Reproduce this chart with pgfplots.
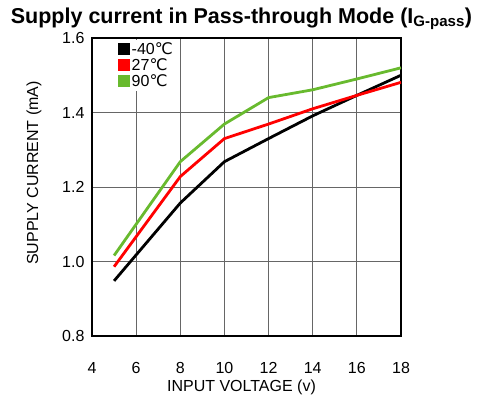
\documentclass[border=0pt]{standalone}
\usepackage{pgfplots}
\pgfplotsset{compat=1.18}
\usepackage{fontspec}
\setmainfont{Liberation Sans}
\newfontfamily\dejavu{DejaVu Sans}
\definecolor{cgreen}{RGB}{104,186,46}
\newcommand{\degC}{{\dejavu ℃}}

\begin{document}
\begin{tikzpicture}
\begin{axis}[
    scale only axis,
    width=309pt, height=298pt,
    xmin=4, xmax=18, ymin=0.8, ymax=1.6,
    xtick={4,6,...,18},
    ytick={0.8,1.0,...,1.6},
    y tick label style={/pgf/number format/fixed,/pgf/number format/fixed zerofill,/pgf/number format/precision=1},
    /pgf/number format/assume math mode=true,
    tick label style={font=\fontsize{16}{18}\selectfont},
    xticklabel style={yshift=-23pt},
    yticklabel style={xshift=-4pt},
    major tick length=0pt,
    grid=major,
    grid style={black!60, line width=1pt},
    axis line style={line width=2pt},
    xlabel={INPUT VOLTAGE (v)},
    ylabel={SUPPLY CURRENT (mA)},
    label style={font=\fontsize{16}{18}\selectfont},
    xlabel style={at={(rel axis cs:0.5,0)}, anchor=center, yshift=-51pt, xshift=-5pt},
    ylabel style={at={(rel axis cs:0,0.5)}, anchor=center, xshift=14pt, yshift=58pt},
    legend style={at={(rel axis cs:0.08,0.995)}, anchor=north west, draw=none,
        fill=white, inner sep=1pt, row sep=-1.5pt,
        font=\fontsize{16}{16}\selectfont},
    legend cell align=left,
    legend image code/.code={\fill[#1] (0pt,-4.5pt) rectangle (9pt,4.5pt);},
    every axis plot/.append style={line width=2.8pt},
]
\addplot[black] coordinates {(5,0.948) (8,1.157) (10,1.268) (12,1.330) (14,1.391) (16,1.446) (18,1.500)};
\addlegendentry{-40\degC}
\addplot[red] coordinates {(5,0.986) (8,1.228) (10,1.330) (12,1.369) (14,1.410) (16,1.446) (18,1.481)};
\addlegendentry{27\degC}
\addplot[cgreen] coordinates {(5,1.016) (8,1.268) (10,1.369) (12,1.440) (14,1.461) (16,1.490) (18,1.520)};
\addlegendentry{90\degC}
\end{axis}
\node[font=\bfseries\fontsize{21.5}{23}\selectfont, anchor=center] at ([xshift=-5pt,yshift=19pt]current axis.north) {Supply current in Pass-through Mode (I\textsubscript{G-pass})};
\path ([xshift=-92pt,yshift=-66pt]current axis.south west) rectangle ++(481pt,402pt);
\end{tikzpicture}
\end{document}
